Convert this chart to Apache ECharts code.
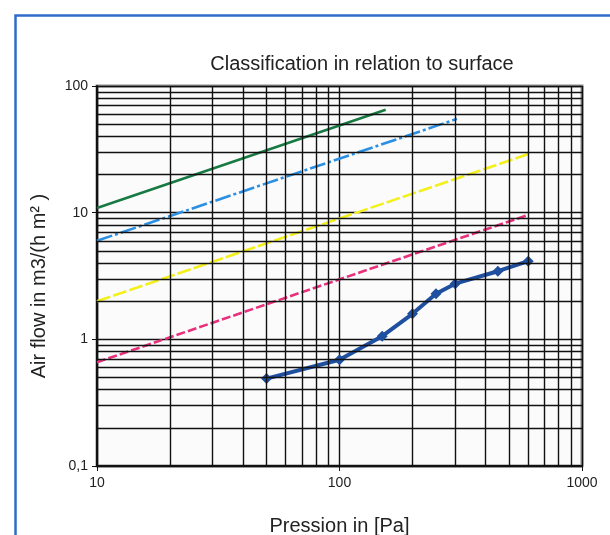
<!DOCTYPE html>
<html>
<head>
<meta charset="utf-8">
<script src="https://cdn.jsdelivr.net/npm/echarts@6/dist/echarts.min.js"></script>
<style>
html,body{margin:0;padding:0;background:#fff;}
#chart{width:610px;height:535px;}
</style>
</head>
<body>
<div id="chart"></div>
<script>
// ---- data ----
const titleText = 'Classification in relation to surface';
const xName = 'Pression in [Pa]';
const yName = 'Air flow in m3/(h m\u00B2 )';

const class1X = [10, 155];
const class1Y = [10.9, 65];
const class2X = [10, 305];
const class2Y = [6.0, 55];
const class3X = [10, 600];
const class3Y = [2.0, 29];
const class4X = [10, 600];
const class4Y = [0.66, 9.6];

const measX = [50, 100, 150, 200, 250, 300, 450, 600];
const measY = [0.49, 0.69, 1.06, 1.59, 2.29, 2.75, 3.45, 4.14];

const xMinorGrid = [20, 30, 40, 50, 60, 70, 80, 90, 200, 300, 400, 500, 600, 700, 800, 900];
const yMinorGrid = [0.2, 0.3, 0.4, 0.5, 0.6, 0.7, 0.8, 0.9, 2, 3, 4, 5, 6, 7, 8, 9, 20, 30, 40, 50, 60, 70, 80, 90];

function pairs(xs, ys){ return xs.map((x,i)=>[x, ys[i]]); }

const chart = echarts.init(document.getElementById('chart'), null, {renderer:'canvas'});
const gridLine = {color:'#111', width:1.4, type:'solid'};
const font = 'Liberation Sans, Arial, sans-serif';

const option = {
  animation:false,
  backgroundColor:'#ffffff',
  title:{
    text:titleText, left:357, top:49, textAlign:'center',
    textStyle:{fontFamily:font, fontSize:20, fontWeight:'normal', color:'#222'}
  },
  graphic:[{
    type:'rect', left:13, top:13, shape:{width:640, height:560},
    style:{fill:null, stroke:'#2f6ccc', lineWidth:2.5}, silent:true
  }],
  grid:{left:97, right:28, top:86, bottom:69, containLabel:false, outerBoundsMode:'none',
    show:true, borderColor:'#8a8a8a', borderWidth:3, backgroundColor:'#fbfbfb'},
  xAxis:{
    type:'log', logBase:10, min:10, max:1000,
    name:xName, nameLocation:'middle', nameGap:50,
    nameTextStyle:{fontFamily:font, fontSize:20, color:'#222'},
    axisLine:{show:true, lineStyle:{color:'#111', width:2}},
    axisTick:{show:true, length:5, lineStyle:{color:'#111'}},
    axisLabel:{fontFamily:font, fontSize:14, color:'#222', margin:10,
      formatter:function(v){ return String(Math.round(v)); }},
    splitLine:{show:true, lineStyle:gridLine}
  },
  yAxis:{
    type:'log', logBase:10, min:0.1, max:100,
    name:yName, nameLocation:'middle', nameGap:48,
    nameTextStyle:{fontFamily:font, fontSize:20, color:'#222', padding:[0,20,0,0]},
    axisLine:{show:true, lineStyle:{color:'#111', width:2}},
    axisTick:{show:true, length:5, lineStyle:{color:'#111'}},
    axisLabel:{fontFamily:font, fontSize:14, color:'#222', margin:9,
      formatter:function(v){ return v < 1 ? String(v).replace('.', ',') : String(Math.round(v)); }},
    splitLine:{show:true, lineStyle:gridLine}
  },
  series:[
    {
      type:'line', data:[[10,0.1]], symbol:'none', silent:true, z:1,
      lineStyle:{opacity:0},
      markLine:{
        silent:true, symbol:'none', animation:false,
        label:{show:false},
        lineStyle:gridLine,
        emphasis:{disabled:true},
        data: xMinorGrid.map(v=>({xAxis:v})).concat(yMinorGrid.map(v=>({yAxis:v})))
      }
    },
    {type:'line', data:pairs(class1X,class1Y), symbol:'none', z:3,
      lineStyle:{color:'#177a43', width:2.6}},
    {type:'line', data:pairs(class2X,class2Y), symbol:'none', z:3,
      lineStyle:{color:'#2b8fe3', width:2.6, type:[16,3,3,3]}},
    {type:'line', data:pairs(class3X,class3Y), symbol:'none', z:3,
      lineStyle:{color:'#f4f01c', width:2.6, type:[14,3]}},
    {type:'line', data:pairs(class4X,class4Y), symbol:'none', z:3,
      lineStyle:{color:'#e8307c', width:2.6, type:[9,3]}},
    {type:'line', data:pairs(measX,measY), symbol:'diamond', symbolSize:11, z:4,
      itemStyle:{color:'#1f4f9f'},
      lineStyle:{color:'#1f4f9f', width:4}}
  ]
};
chart.setOption(option);
</script>
</body>
</html>
